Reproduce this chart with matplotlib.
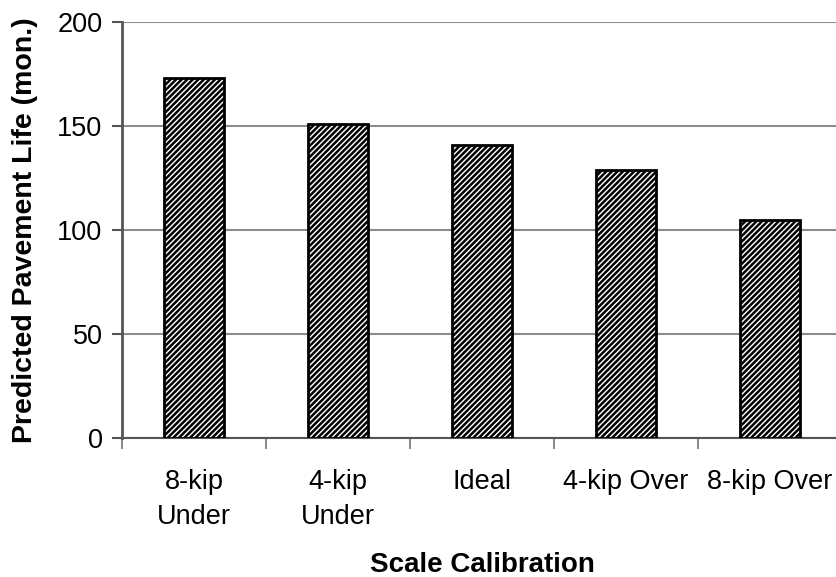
import matplotlib.pyplot as plt
import numpy as np

plt.rcParams['font.family'] = ['Liberation Sans', 'DejaVu Sans']
plt.rcParams['hatch.linewidth'] = 1.8

# Data
categories = ['8-kip\nUnder', '4-kip\nUnder', 'Ideal', '4-kip Over', '8-kip Over']
life_months = [173, 151, 141, 129, 105]

x = np.arange(len(categories))

fig = plt.figure(figsize=(8.37, 5.77), dpi=100)
ax = fig.add_axes([122/837, 1 - 438/577, 720/837, 416/577])

ax.bar(x, life_months, width=0.41, color='white', edgecolor='black',
       hatch='//////', linewidth=2, zorder=3)

ax.set_xlim(-0.5, len(categories) - 0.5)
ax.set_ylim(0, 200)
ax.set_yticks([0, 50, 100, 150, 200])
ax.yaxis.grid(True, color='#8c8c8c', linewidth=1.5, zorder=0)

# ticks at category boundaries on x axis
ax.set_xticks(x)
ax.set_xticklabels(categories, fontsize=19.5, linespacing=1.45)
ax.set_xticks(np.arange(len(categories) + 1) - 0.5, minor=True)
ax.tick_params(axis='x', which='major', length=0, pad=22)
ax.tick_params(axis='x', which='minor', length=8, width=1.5, color='#8c8c8c')
ax.tick_params(axis='y', length=7, width=1.5, color='#555555', pad=7, labelsize=19.5)

for s in ['top', 'right']:
    ax.spines[s].set_visible(False)
ax.spines['left'].set_color('#555555')
ax.spines['left'].set_linewidth(2)
ax.spines['bottom'].set_color('#555555')
ax.spines['bottom'].set_linewidth(1.5)

ax.set_xlabel('Scale Calibration', fontsize=20, fontweight='bold', labelpad=16)
ax.set_ylabel('Predicted Pavement Life (mon.)', fontsize=20.5, fontweight='bold', labelpad=14)

fig.savefig('out.png', dpi=100)
